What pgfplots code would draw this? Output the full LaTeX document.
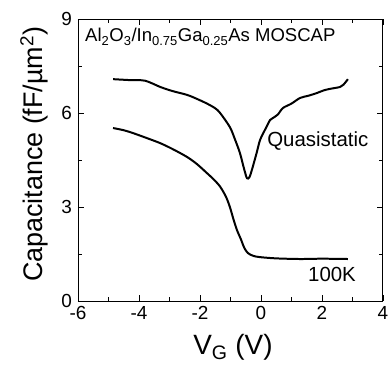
\documentclass[border=0pt]{standalone}
\usepackage{fontspec}
\setmainfont{Liberation Sans}
\usepackage{pgfplots}
\pgfplotsset{compat=1.18}
\begin{document}
\begin{tikzpicture}
\begin{axis}[
  scale only axis,
  width=305bp, height=282bp,
  xmin=-6, xmax=4, ymin=0, ymax=9,
  xtick={-6,-4,-2,0,2,4},
  ytick={0,3,6,9},
  minor xtick={-5,-3,-1,1,3},
  minor ytick={1.5,4.5,7.5},
  tick align=inside,
  major tick length=6bp,
  minor tick length=4bp,
  every tick/.style={black, line width=0.9pt},
  axis line style={line width=1pt},
  /pgf/number format/assume math mode=true,
  tick label style={font=\fontsize{19}{20}\selectfont},
  xticklabel style={anchor=north, inner sep=0pt, yshift=-5bp},
  yticklabel style={anchor=east, inner sep=0pt, xshift=-6bp},
  xlabel={V\textsubscript{G} (V)},
  ylabel={Capacitance (fF/µm\textsuperscript{2})},
  xlabel style={font=\fontsize{28}{30}\selectfont, at={(axis description cs:0.508,0)}, anchor=north, inner sep=0pt, yshift=-33bp},
  ylabel style={font=\fontsize{27}{29}\selectfont, at={(axis description cs:-0.098,0.52)}, anchor=south, inner sep=0pt},
  clip=false,
]
\addplot[black, line width=2pt, smooth] coordinates {
(-4.85,7.08) (-4.3,7.05) (-3.8,7.03) (-3.3,6.83) (-2.9,6.7) (-2.43,6.58) (-2.1,6.45) (-1.77,6.3) (-1.5,6.15) (-1.34,6.0)
(-1.02,5.55) (-0.85,5.15) (-0.69,4.72) (-0.55,4.2) (-0.46,3.92) (-0.38,3.95) (-0.3,4.18) (-0.15,4.7) (-0.03,5.14) (0.15,5.5) (0.3,5.78)
(0.39,5.84) (0.55,5.95) (0.72,6.16) (1.0,6.3) (1.28,6.48) (1.55,6.55) (1.84,6.64) (2.05,6.72) (2.26,6.77) (2.59,6.83) (2.7,6.9) (2.85,7.08)
};
\addplot[black, line width=2pt, smooth] coordinates {
(-4.85,5.52) (-4.5,5.45) (-4.2,5.36) (-3.8,5.22) (-3.31,5.04) (-2.9,4.85) (-2.43,4.6) (-2.1,4.37) (-1.77,4.08) (-1.55,3.88) (-1.34,3.65)
(-1.15,3.33) (-1.02,3.0) (-0.9,2.6) (-0.79,2.27) (-0.65,1.95) (-0.55,1.7) (-0.43,1.53) (-0.25,1.44) (-0.03,1.40) (0.5,1.36) (1.28,1.34) (2.0,1.35) (2.85,1.34)
};
\node[anchor=base west, inner sep=0pt, font=\fontsize{18.6}{20}\selectfont] at (axis cs:-5.77,8.27) {Al\textsubscript{2}O\textsubscript{3}/In\textsubscript{0.75}Ga\textsubscript{0.25}As MOSCAP};
\node[anchor=base west, inner sep=0pt, font=\fontsize{20.5}{22}\selectfont] at (axis cs:0.2,4.92) {Quasistatic};
\node[anchor=base west, inner sep=0pt, font=\fontsize{20.5}{22}\selectfont] at (axis cs:1.54,0.61) {100K};
\end{axis}
\path (current axis.south west) ++(-78bp,-66bp) rectangle ++(390bp,367bp);
\end{tikzpicture}
\end{document}
